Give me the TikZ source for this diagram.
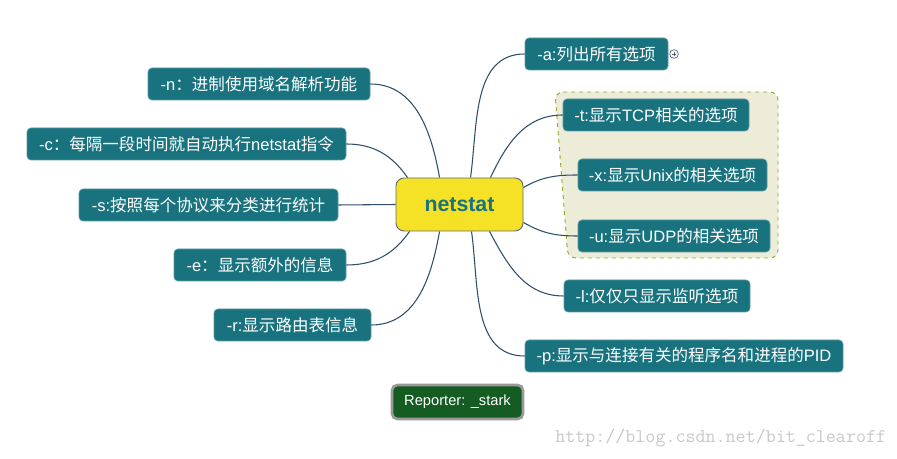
\documentclass[tikz,border=0pt]{standalone}
\usepackage{fontspec}
\setmainfont{Liberation Sans}
\newfontfamily\zhfont{Noto Sans CJK SC}
\newcommand{\zh}[1]{{\zhfont #1}}
\usetikzlibrary{calc}
\definecolor{tealbox}{HTML}{18737F}
\definecolor{tealedge}{HTML}{5E9AA3}
\definecolor{ctrfill}{HTML}{F5E126}
\definecolor{ctredge}{HTML}{5D6B6E}
\definecolor{ctrtext}{HTML}{1A7380}
\definecolor{linec}{HTML}{2F4E6E}
\definecolor{grpfill}{HTML}{ECECD9}
\definecolor{grpedge}{HTML}{9AA82A}
\definecolor{repfill}{HTML}{145C22}
\definecolor{repedge}{HTML}{9A9A9A}
\definecolor{wmark}{HTML}{C8C8C8}
\definecolor{plusc}{HTML}{4A5A80}
\tikzset{
  optbox/.style={draw=tealedge, line width=0.5pt, fill=tealbox, rounded corners=3pt,
    text=white, minimum height=24pt, inner sep=0pt, font=\fontsize{12.4}{14}\selectfont},
  bw/.style={minimum width=#1*0.75pt},
  conn/.style={draw=linec, line width=0.8pt},
}
\begin{document}
\begin{tikzpicture}[x=0.75pt,y=-0.75pt]
\useasboundingbox (0,0) rectangle (897,459);
% group background
\draw[fill=grpfill, draw=grpedge, dashed, line width=0.7pt, rounded corners=6pt]
  (555,92) -- (778,92) -- (778,258) -- (568,258) -- cycle;
% center
\node[draw=ctredge, line width=0.7pt, fill=ctrfill, rounded corners=6pt,
  minimum width=127*0.75pt, minimum height=53*0.75pt, inner sep=0pt,
  text=ctrtext, font=\fontsize{16}{18}\selectfont\bfseries] (ctr) at (459.5,204.5) {netstat};
% left nodes
\node[optbox, bw=222] (n) at (259,84) {-n\zh{：进制使用域名解析功能}};
\node[optbox, bw=319] (c) at (186.5,144) {-c\zh{：每隔一段时间就自动执行}netstat\zh{指令}};
\node[optbox, bw=259] (s) at (208.5,205) {-s:\zh{按照每个协议来分类进行统计}};
\node[optbox, bw=172] (e) at (260,265) {-e\zh{：显示额外的信息}};
\node[optbox, bw=157] (r) at (292.5,325) {-r:\zh{显示路由表信息}};
% right nodes
\node[optbox, bw=143] (a) at (596.5,54) {-a:\zh{列出所有选项}};
\node[optbox, bw=186] (t) at (656,115) {-t:\zh{显示}TCP\zh{相关的选项}};
\node[optbox, bw=189] (x) at (672.5,175) {-x:\zh{显示}Unix\zh{的相关选项}};
\node[optbox, bw=192] (u) at (674,236) {-u:\zh{显示}UDP\zh{的相关选项}};
\node[optbox, bw=186] (l) at (657,296) {-l:\zh{仅仅只显示监听选项}};
\node[optbox, bw=318] (p) at (684,356) {-p:\zh{显示与连接有关的程序名和进程的}PID};
% plus marker
\node[draw=plusc, circle, line width=0.5pt, minimum size=6.5pt, inner sep=0pt] (plus) at (674,54) {};
\draw[plusc, line width=0.5pt] ($(plus.center)+(-2.2,0)$) -- ($(plus.center)+(2.2,0)$);
\draw[plusc, line width=0.5pt] ($(plus.center)+(0,-2.2)$) -- ($(plus.center)+(0,2.2)$);
% connectors
\draw[conn] (n.east) to[out=0,in=100] ($(ctr.north west)+(44,0)$);
\draw[conn] (c.east) to[out=0,in=125] ($(ctr.north west)+(12,0)$);
\draw[conn] (s.east) -- (ctr.west);
\draw[conn] (e.east) to[out=0,in=-125] ($(ctr.south west)+(14,0)$);
\draw[conn] (r.east) to[out=0,in=-100] ($(ctr.south west)+(44,0)$);
\draw[conn] (a.west) to[out=180,in=82] ($(ctr.north west)+(75,0)$);
\draw[conn] (t.west) to[out=180,in=65] ($(ctr.north west)+(95,0)$);
\draw[conn] ($(ctr.north east)+(0,10)$) to[out=30,in=180] (x.west);
\draw[conn] ($(ctr.south east)+(0,-9)$) to[out=-30,in=180] (u.west);
\draw[conn] (l.west) to[out=180,in=-62] ($(ctr.south west)+(94,0)$);
\draw[conn] (p.west) to[out=180,in=-82] ($(ctr.south west)+(76,0)$);
% reporter
\node[draw=repedge, line width=2pt, fill=repfill, rounded corners=4pt,
  minimum width=131*0.75pt, minimum height=34*0.75pt, inner sep=0pt,
  text=white, font=\fontsize{11}{13}\selectfont] (rep) at (457.5,402) {Reporter: \_stark};
% watermark
\node[anchor=west, inner sep=0pt, text=wmark, font=\ttfamily\fontsize{14.6}{16}\selectfont] (wm) at (555,438) {http://blog.csdn.net/bit\_clearoff};
\end{tikzpicture}
\end{document}
